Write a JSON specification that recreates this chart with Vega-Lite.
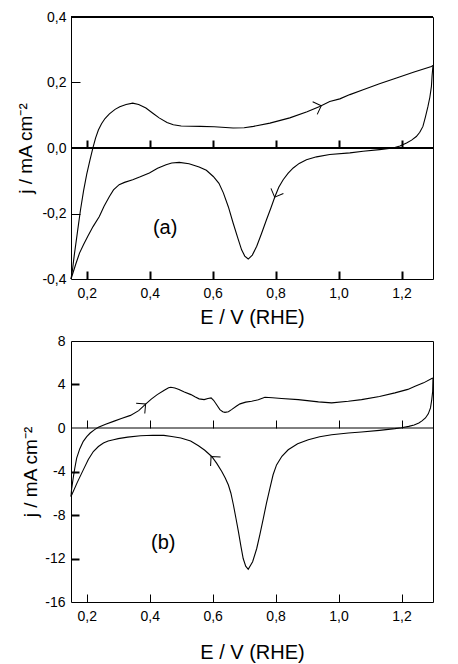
{
  "$schema": "https://vega.github.io/schema/vega-lite/v6.json",
  "background": "white",
  "padding": {"left": 16, "top": 9, "right": 0, "bottom": 0},
  "spacing": 5,
  "config": {
    "font": "Liberation Sans",
    "view": {"stroke": "black", "strokeWidth": 1},
    "axis": {"grid": false, "domain": false, "labelFont": "Liberation Sans", "labelFontSize": 14, "labelColor": "black", "titleFont": "Liberation Sans", "titleFontSize": 19, "titleFontWeight": "normal", "titleColor": "black", "tickColor": "black"}
  },
  "datasets": {
    "a": [
      {"E":0.150,"j":-0.40,"branch":"anodic"},{"E":0.155,"j":-0.37,"branch":"anodic"},{"E":0.160,"j":-0.33,"branch":"anodic"},{"E":0.170,"j":-0.26,"branch":"anodic"},{"E":0.180,"j":-0.19,"branch":"anodic"},{"E":0.190,"j":-0.13,"branch":"anodic"},{"E":0.200,"j":-0.08,"branch":"anodic"},{"E":0.210,"j":-0.038,"branch":"anodic"},{"E":0.220,"j":0.002,"branch":"anodic"},{"E":0.228,"j":0.030,"branch":"anodic"},{"E":0.237,"j":0.055,"branch":"anodic"},{"E":0.247,"j":0.074,"branch":"anodic"},{"E":0.258,"j":0.090,"branch":"anodic"},{"E":0.272,"j":0.104,"branch":"anodic"},{"E":0.290,"j":0.118,"branch":"anodic"},{"E":0.305,"j":0.126,"branch":"anodic"},{"E":0.325,"j":0.133,"branch":"anodic"},{"E":0.346,"j":0.137,"branch":"anodic"},{"E":0.365,"j":0.133,"branch":"anodic"},{"E":0.388,"j":0.122,"branch":"anodic"},{"E":0.410,"j":0.106,"branch":"anodic"},{"E":0.430,"j":0.092,"branch":"anodic"},{"E":0.455,"j":0.078,"branch":"anodic"},{"E":0.475,"j":0.071,"branch":"anodic"},{"E":0.500,"j":0.067,"branch":"anodic"},{"E":0.560,"j":0.066,"branch":"anodic"},{"E":0.605,"j":0.065,"branch":"anodic"},{"E":0.665,"j":0.061,"branch":"anodic"},{"E":0.700,"j":0.062,"branch":"anodic"},{"E":0.730,"j":0.066,"branch":"anodic"},{"E":0.782,"j":0.076,"branch":"anodic"},{"E":0.845,"j":0.092,"branch":"anodic"},{"E":0.900,"j":0.111,"branch":"anodic"},{"E":0.940,"j":0.127,"branch":"anodic"},{"E":0.972,"j":0.142,"branch":"anodic"},{"E":1.004,"j":0.150,"branch":"anodic"},{"E":1.036,"j":0.163,"branch":"anodic"},{"E":1.078,"j":0.178,"branch":"anodic"},{"E":1.130,"j":0.196,"branch":"anodic"},{"E":1.184,"j":0.214,"branch":"anodic"},{"E":1.240,"j":0.232,"branch":"anodic"},{"E":1.295,"j":0.249,"branch":"anodic"},{"E":1.300,"j":0.252,"branch":"anodic"},
      {"E":1.300,"j":0.252,"branch":"cathodic"},{"E":1.297,"j":0.22,"branch":"cathodic"},{"E":1.295,"j":0.188,"branch":"cathodic"},{"E":1.290,"j":0.155,"branch":"cathodic"},{"E":1.284,"j":0.127,"branch":"cathodic"},{"E":1.276,"j":0.095,"branch":"cathodic"},{"E":1.268,"j":0.066,"branch":"cathodic"},{"E":1.258,"j":0.048,"branch":"cathodic"},{"E":1.247,"j":0.035,"branch":"cathodic"},{"E":1.232,"j":0.024,"branch":"cathodic"},{"E":1.216,"j":0.015,"branch":"cathodic"},{"E":1.195,"j":0.006,"branch":"cathodic"},{"E":1.173,"j":0.0,"branch":"cathodic"},{"E":1.130,"j":-0.005,"branch":"cathodic"},{"E":1.078,"j":-0.010,"branch":"cathodic"},{"E":1.036,"j":-0.015,"branch":"cathodic"},{"E":0.972,"j":-0.020,"branch":"cathodic"},{"E":0.930,"j":-0.027,"branch":"cathodic"},{"E":0.898,"j":-0.036,"branch":"cathodic"},{"E":0.875,"j":-0.047,"branch":"cathodic"},{"E":0.856,"j":-0.061,"branch":"cathodic"},{"E":0.840,"j":-0.077,"branch":"cathodic"},{"E":0.824,"j":-0.097,"branch":"cathodic"},{"E":0.810,"j":-0.120,"branch":"cathodic"},{"E":0.798,"j":-0.148,"branch":"cathodic"},{"E":0.785,"j":-0.183,"branch":"cathodic"},{"E":0.771,"j":-0.219,"branch":"cathodic"},{"E":0.755,"j":-0.262,"branch":"cathodic"},{"E":0.740,"j":-0.300,"branch":"cathodic"},{"E":0.726,"j":-0.327,"branch":"cathodic"},{"E":0.713,"j":-0.339,"branch":"cathodic"},{"E":0.702,"j":-0.330,"branch":"cathodic"},{"E":0.692,"j":-0.311,"branch":"cathodic"},{"E":0.680,"j":-0.275,"branch":"cathodic"},{"E":0.665,"j":-0.229,"branch":"cathodic"},{"E":0.650,"j":-0.180,"branch":"cathodic"},{"E":0.634,"j":-0.137,"branch":"cathodic"},{"E":0.620,"j":-0.108,"branch":"cathodic"},{"E":0.602,"j":-0.087,"branch":"cathodic"},{"E":0.580,"j":-0.068,"branch":"cathodic"},{"E":0.557,"j":-0.058,"branch":"cathodic"},{"E":0.525,"j":-0.048,"branch":"cathodic"},{"E":0.494,"j":-0.044,"branch":"cathodic"},{"E":0.470,"j":-0.046,"branch":"cathodic"},{"E":0.452,"j":-0.051,"branch":"cathodic"},{"E":0.425,"j":-0.062,"branch":"cathodic"},{"E":0.399,"j":-0.076,"branch":"cathodic"},{"E":0.370,"j":-0.088,"branch":"cathodic"},{"E":0.346,"j":-0.097,"branch":"cathodic"},{"E":0.320,"j":-0.105,"branch":"cathodic"},{"E":0.303,"j":-0.112,"branch":"cathodic"},{"E":0.285,"j":-0.128,"branch":"cathodic"},{"E":0.272,"j":-0.148,"branch":"cathodic"},{"E":0.255,"j":-0.178,"branch":"cathodic"},{"E":0.240,"j":-0.209,"branch":"cathodic"},{"E":0.220,"j":-0.240,"branch":"cathodic"},{"E":0.203,"j":-0.270,"branch":"cathodic"},{"E":0.190,"j":-0.295,"branch":"cathodic"},{"E":0.177,"j":-0.321,"branch":"cathodic"},{"E":0.165,"j":-0.355,"branch":"cathodic"},{"E":0.150,"j":-0.400,"branch":"cathodic"}
    ],
    "b": [
      {"E":0.150,"j":-6.3,"branch":"anodic"},{"E":0.152,"j":-5.6,"branch":"anodic"},{"E":0.157,"j":-4.6,"branch":"anodic"},{"E":0.162,"j":-3.7,"branch":"anodic"},{"E":0.168,"j":-2.77,"branch":"anodic"},{"E":0.178,"j":-1.9,"branch":"anodic"},{"E":0.189,"j":-1.23,"branch":"anodic"},{"E":0.200,"j":-0.8,"branch":"anodic"},{"E":0.211,"j":-0.46,"branch":"anodic"},{"E":0.225,"j":-0.15,"branch":"anodic"},{"E":0.237,"j":0.06,"branch":"anodic"},{"E":0.260,"j":0.35,"branch":"anodic"},{"E":0.285,"j":0.61,"branch":"anodic"},{"E":0.310,"j":0.87,"branch":"anodic"},{"E":0.339,"j":1.16,"branch":"anodic"},{"E":0.365,"j":1.6,"branch":"anodic"},{"E":0.387,"j":2.2,"branch":"anodic"},{"E":0.405,"j":2.65,"branch":"anodic"},{"E":0.424,"j":3.07,"branch":"anodic"},{"E":0.445,"j":3.45,"branch":"anodic"},{"E":0.460,"j":3.7,"branch":"anodic"},{"E":0.467,"j":3.75,"branch":"anodic"},{"E":0.480,"j":3.68,"branch":"anodic"},{"E":0.493,"j":3.54,"branch":"anodic"},{"E":0.510,"j":3.3,"branch":"anodic"},{"E":0.531,"j":3.07,"branch":"anodic"},{"E":0.545,"j":2.85,"branch":"anodic"},{"E":0.557,"j":2.68,"branch":"anodic"},{"E":0.573,"j":2.61,"branch":"anodic"},{"E":0.585,"j":2.72,"branch":"anodic"},{"E":0.595,"j":2.77,"branch":"anodic"},{"E":0.603,"j":2.55,"branch":"anodic"},{"E":0.610,"j":2.25,"branch":"anodic"},{"E":0.623,"j":1.69,"branch":"anodic"},{"E":0.632,"j":1.5,"branch":"anodic"},{"E":0.639,"j":1.44,"branch":"anodic"},{"E":0.650,"j":1.5,"branch":"anodic"},{"E":0.660,"j":1.69,"branch":"anodic"},{"E":0.675,"j":2.0,"branch":"anodic"},{"E":0.687,"j":2.22,"branch":"anodic"},{"E":0.705,"j":2.38,"branch":"anodic"},{"E":0.724,"j":2.46,"branch":"anodic"},{"E":0.745,"j":2.6,"branch":"anodic"},{"E":0.766,"j":2.83,"branch":"anodic"},{"E":0.790,"j":2.78,"branch":"anodic"},{"E":0.819,"j":2.71,"branch":"anodic"},{"E":0.872,"j":2.61,"branch":"anodic"},{"E":0.936,"j":2.4,"branch":"anodic"},{"E":0.978,"j":2.31,"branch":"anodic"},{"E":1.031,"j":2.46,"branch":"anodic"},{"E":1.073,"j":2.61,"branch":"anodic"},{"E":1.130,"j":2.9,"branch":"anodic"},{"E":1.179,"j":3.23,"branch":"anodic"},{"E":1.220,"j":3.55,"branch":"anodic"},{"E":1.243,"j":3.84,"branch":"anodic"},{"E":1.270,"j":4.15,"branch":"anodic"},{"E":1.296,"j":4.55,"branch":"anodic"},{"E":1.300,"j":4.6,"branch":"anodic"},
      {"E":1.300,"j":4.6,"branch":"cathodic"},{"E":1.299,"j":3.38,"branch":"cathodic"},{"E":1.296,"j":2.6,"branch":"cathodic"},{"E":1.292,"j":1.85,"branch":"cathodic"},{"E":1.285,"j":1.3,"branch":"cathodic"},{"E":1.276,"j":0.92,"branch":"cathodic"},{"E":1.265,"j":0.65,"branch":"cathodic"},{"E":1.255,"j":0.46,"branch":"cathodic"},{"E":1.240,"j":0.28,"branch":"cathodic"},{"E":1.223,"j":0.15,"branch":"cathodic"},{"E":1.200,"j":0.03,"branch":"cathodic"},{"E":1.179,"j":-0.06,"branch":"cathodic"},{"E":1.130,"j":-0.22,"branch":"cathodic"},{"E":1.073,"j":-0.37,"branch":"cathodic"},{"E":1.031,"j":-0.46,"branch":"cathodic"},{"E":0.978,"j":-0.62,"branch":"cathodic"},{"E":0.940,"j":-0.8,"branch":"cathodic"},{"E":0.904,"j":-1.08,"branch":"cathodic"},{"E":0.870,"j":-1.45,"branch":"cathodic"},{"E":0.840,"j":-2.0,"branch":"cathodic"},{"E":0.820,"j":-2.6,"branch":"cathodic"},{"E":0.803,"j":-3.39,"branch":"cathodic"},{"E":0.792,"j":-4.3,"branch":"cathodic"},{"E":0.782,"j":-5.54,"branch":"cathodic"},{"E":0.771,"j":-6.9,"branch":"cathodic"},{"E":0.761,"j":-8.31,"branch":"cathodic"},{"E":0.750,"j":-9.8,"branch":"cathodic"},{"E":0.740,"j":-11.08,"branch":"cathodic"},{"E":0.727,"j":-12.3,"branch":"cathodic"},{"E":0.713,"j":-12.99,"branch":"cathodic"},{"E":0.705,"j":-12.7,"branch":"cathodic"},{"E":0.697,"j":-12.0,"branch":"cathodic"},{"E":0.690,"j":-10.9,"branch":"cathodic"},{"E":0.682,"j":-9.55,"branch":"cathodic"},{"E":0.674,"j":-8.3,"branch":"cathodic"},{"E":0.666,"j":-7.08,"branch":"cathodic"},{"E":0.658,"j":-6.0,"branch":"cathodic"},{"E":0.650,"j":-5.24,"branch":"cathodic"},{"E":0.640,"j":-4.6,"branch":"cathodic"},{"E":0.629,"j":-4.0,"branch":"cathodic"},{"E":0.613,"j":-3.25,"branch":"cathodic"},{"E":0.597,"j":-2.62,"branch":"cathodic"},{"E":0.575,"j":-2.05,"branch":"cathodic"},{"E":0.555,"j":-1.63,"branch":"cathodic"},{"E":0.530,"j":-1.2,"branch":"cathodic"},{"E":0.499,"j":-0.92,"branch":"cathodic"},{"E":0.470,"j":-0.78,"branch":"cathodic"},{"E":0.445,"j":-0.68,"branch":"cathodic"},{"E":0.410,"j":-0.67,"branch":"cathodic"},{"E":0.371,"j":-0.71,"branch":"cathodic"},{"E":0.330,"j":-0.84,"branch":"cathodic"},{"E":0.300,"j":-0.98,"branch":"cathodic"},{"E":0.285,"j":-1.08,"branch":"cathodic"},{"E":0.268,"j":-1.2,"branch":"cathodic"},{"E":0.253,"j":-1.38,"branch":"cathodic"},{"E":0.237,"j":-1.7,"branch":"cathodic"},{"E":0.221,"j":-2.16,"branch":"cathodic"},{"E":0.205,"j":-2.9,"branch":"cathodic"},{"E":0.189,"j":-3.85,"branch":"cathodic"},{"E":0.170,"j":-5.0,"branch":"cathodic"},{"E":0.150,"j":-6.3,"branch":"cathodic"}
    ],
    "arrows": [
      {"panel":"a","branch":"anodic","E":0.945,"j":0.129},
      {"panel":"a","branch":"cathodic","E":0.797,"j":-0.15},
      {"panel":"b","branch":"anodic","E":0.387,"j":2.2},
      {"panel":"b","branch":"cathodic","E":0.595,"j":-2.62}
    ],
    "labels": [
      {"panel":"a","E":0.449,"j":-0.243,"text":"(a)"},
      {"panel":"b","E":0.443,"j":-10.6,"text":"(b)"}
    ],
    "linesA": [
      {"E0":0.15,"E1":1.3,"j":0},
      {"E0":0.15,"E1":1.3,"j":0.4}
    ],
    "linesB": [
      {"E0":0.15,"E1":1.3,"j":0}
    ]
  },
  "vconcat": [
    {
      "width": 362,
      "height": 262,
      "resolve": {"axis": {"x": "independent", "y": "independent"}},
      "layer": [
        {
          "data": {"name": "a"},
          "mark": {"type": "line", "color": "black", "strokeWidth": 1.1},
          "encoding": {
            "x": {"field": "E", "type": "quantitative", "scale": {"domain": [0.15, 1.3], "nice": false, "zero": false},
                  "axis": {"values": [0.2, 0.4, 0.6, 0.8, 1.0, 1.2], "labelExpr": "replace(replace(format(datum.value, '.1f'), '.', ','), '\u2212', '-')", "ticks": false, "labelPadding": 7, "title": "E / V (RHE)", "titleFontSize": 20, "titlePadding": 7}},
            "y": {"field": "j", "type": "quantitative", "scale": {"domain": [-0.4, 0.4], "nice": false},
                  "axis": {"values": [-0.4, -0.2, 0, 0.2, 0.4], "labelExpr": "replace(replace(format(datum.value, '.1f'), '.', ','), '\u2212', '-')", "ticks": false, "labelPadding": 5, "title": "j / mA cm\u207B\u00B2", "titlePadding": 6}},
            "detail": {"field": "branch"}
          }
        },
        {
          "data": {"name": "linesA"},
          "mark": {"type": "rule", "color": "black", "strokeWidth": 2},
          "encoding": {
            "x": {"field": "E0", "type": "quantitative", "axis": {"orient": "top", "offset": -131, "values": [0.2, 0.4, 0.6, 0.8, 1.0, 1.2], "labels": false, "tickSize": 8, "tickWidth": 2, "title": null, "domain": false}},
            "x2": {"field": "E1"},
            "y": {"field": "j", "type": "quantitative", "axis": null}
          }
        },
        {
          "data": {"name": "arrows"},
          "transform": [{"filter": "datum.panel === 'a' && datum.branch === 'anodic'"}],
          "mark": {"type": "point", "shape": "M-1,-1L0,0L-1,1", "filled": false, "stroke": "black", "strokeWidth": 1, "size": 180, "angle": -20, "opacity": 1},
          "encoding": {
            "x": {"field": "E", "type": "quantitative", "axis": {"orient": "top", "offset": -262, "values": [0.2, 0.4, 0.6, 0.8, 1.0, 1.2], "labels": false, "tickSize": 8, "tickWidth": 2, "title": null, "domain": false}},
            "y": {"field": "j", "type": "quantitative", "axis": {"orient": "right", "offset": -362, "values": [-0.2, 0.2], "labels": false, "tickSize": 9, "tickWidth": 1, "title": null, "domain": false}}
          }
        },
        {
          "data": {"name": "arrows"},
          "transform": [{"filter": "datum.panel === 'a' && datum.branch === 'cathodic'"}],
          "mark": {"type": "point", "shape": "M-1,-1L0,0L-1,1", "filled": false, "stroke": "black", "strokeWidth": 1, "size": 180, "angle": 112, "opacity": 1},
          "encoding": {"x": {"field": "E", "type": "quantitative", "axis": null}, "y": {"field": "j", "type": "quantitative", "axis": null}}
        },
        {
          "data": {"name": "labels"},
          "transform": [{"filter": "datum.panel === 'a'"}],
          "mark": {"type": "text", "font": "Liberation Sans", "fontSize": 20, "color": "black"},
          "encoding": {"x": {"field": "E", "type": "quantitative", "axis": null}, "y": {"field": "j", "type": "quantitative", "axis": null}, "text": {"field": "text"}}
        }
      ]
    },
    {
      "width": 362,
      "height": 261,
      "resolve": {"axis": {"x": "independent", "y": "independent"}},
      "layer": [
        {
          "data": {"name": "b"},
          "mark": {"type": "line", "color": "black", "strokeWidth": 1.1},
          "encoding": {
            "x": {"field": "E", "type": "quantitative", "scale": {"domain": [0.15, 1.3], "nice": false, "zero": false},
                  "axis": {"values": [0.2, 0.4, 0.6, 0.8, 1.0, 1.2], "labelExpr": "replace(replace(format(datum.value, '.1f'), '.', ','), '\u2212', '-')", "ticks": false, "labelPadding": 7, "title": "E / V (RHE)", "titleFontSize": 20, "titlePadding": 19}},
            "y": {"field": "j", "type": "quantitative", "scale": {"domain": [-16, 8], "nice": false},
                  "axis": {"values": [-16, -12, -8, -4, 0, 4, 8], "labelExpr": "replace(format(datum.value, 'd'), '\u2212', '-')", "ticks": false, "labelPadding": 6, "title": "j / mA cm\u207B\u00B2", "titlePadding": 4}},
            "detail": {"field": "branch"}
          }
        },
        {
          "data": {"name": "linesB"},
          "mark": {"type": "rule", "color": "black", "strokeWidth": 1},
          "encoding": {
            "x": {"field": "E0", "type": "quantitative", "axis": {"orient": "top", "offset": -87, "values": [0.2, 0.4, 0.6, 0.8, 1.0, 1.2], "labels": false, "tickSize": 8, "tickWidth": 1, "title": null, "domain": false}},
            "x2": {"field": "E1"},
            "y": {"field": "j", "type": "quantitative", "axis": null}
          }
        },
        {
          "data": {"name": "arrows"},
          "transform": [{"filter": "datum.panel === 'b' && datum.branch === 'anodic'"}],
          "mark": {"type": "point", "shape": "M-1,-1L0,0L-1,1", "filled": false, "stroke": "black", "strokeWidth": 1, "size": 180, "angle": -40, "opacity": 1},
          "encoding": {
            "x": {"field": "E", "type": "quantitative", "axis": {"orient": "top", "offset": -261, "values": [0.2, 0.4, 0.6, 0.8, 1.0, 1.2], "labels": false, "tickSize": 8, "tickWidth": 1, "title": null, "domain": false}},
            "y": {"field": "j", "type": "quantitative", "axis": {"orient": "right", "offset": -362, "values": [-12, -8, -4, 4], "labels": false, "tickSize": 8, "tickWidth": 2, "title": null, "domain": false}}
          }
        },
        {
          "data": {"name": "arrows"},
          "transform": [{"filter": "datum.panel === 'b' && datum.branch === 'cathodic'"}],
          "mark": {"type": "point", "shape": "M-1,-1L0,0L-1,1", "filled": false, "stroke": "black", "strokeWidth": 1, "size": 180, "angle": -132, "opacity": 1},
          "encoding": {"x": {"field": "E", "type": "quantitative", "axis": null}, "y": {"field": "j", "type": "quantitative", "axis": null}}
        },
        {
          "data": {"name": "labels"},
          "transform": [{"filter": "datum.panel === 'b'"}],
          "mark": {"type": "text", "font": "Liberation Sans", "fontSize": 20, "color": "black"},
          "encoding": {"x": {"field": "E", "type": "quantitative", "axis": null}, "y": {"field": "j", "type": "quantitative", "axis": null}, "text": {"field": "text"}}
        }
      ]
    }
  ]
}
